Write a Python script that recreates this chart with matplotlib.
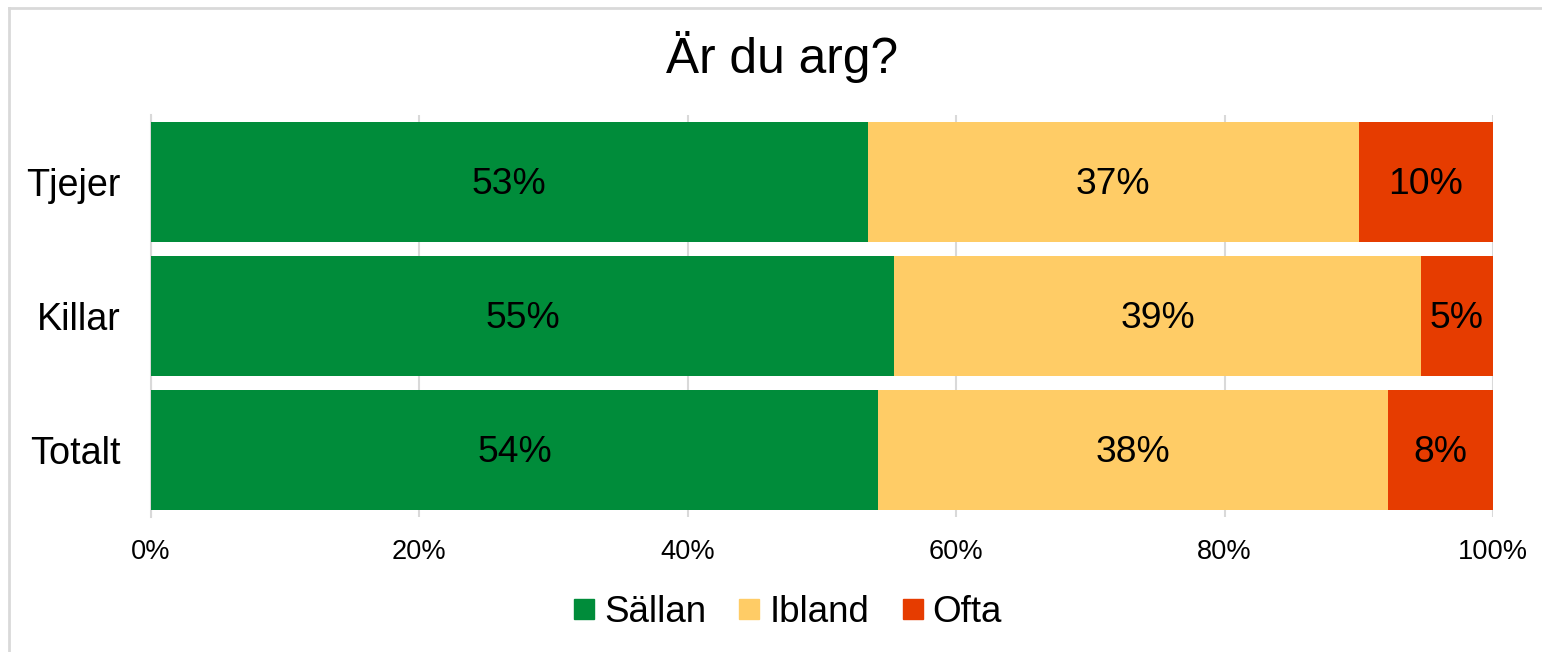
import matplotlib
matplotlib.use("Agg")
import matplotlib.pyplot as plt
from matplotlib.lines import Line2D
import numpy as np

plt.rcParams['font.family'] = ['Liberation Sans', 'DejaVu Sans']

categories = ["Tjejer", "Killar", "Totalt"]
series_names = ["Sällan", "Ibland", "Ofta"]
sallan = [53.4, 55.4, 54.2]
ibland = [36.6, 39.2, 38.0]
ofta = [10.0, 5.4, 7.8]
colors = ["#008C3A", "#FFCC66", "#E63C00"]
xticks = [0, 20, 40, 60, 80, 100]
xticklabels = ["0%", "20%", "40%", "60%", "80%", "100%"]

W, H = 1542, 652
fig = plt.figure(figsize=(W / 100, H / 100), dpi=100)
ax = fig.add_axes([151 / W, 1 - 517 / H, (1493 - 151) / W, (517 - 115) / H])

y = np.arange(len(categories))
left = np.zeros(len(categories))
for name, vals, c in zip(series_names, [sallan, ibland, ofta], colors):
    vals = np.array(vals)
    ax.barh(y, vals, left=left, height=0.895, color=c, label=name, zorder=3)
    for yi, l, v in zip(y, left, vals):
        ax.text(l + v / 2, yi + 0.02, f"{v:.0f}%", ha="center", va="center",
                fontsize=26.8, color="black", zorder=4)
    left = left + vals

ax.set_xlim(0, 100)
ax.set_ylim(len(categories) - 0.5, -0.5)
ax.set_yticks(y)
ax.set_yticklabels(categories, fontsize=27.2)
ax.set_xticks(xticks)
ax.set_xticklabels(xticklabels, fontsize=19.6)
ax.tick_params(axis="y", length=0, pad=22)
ax.tick_params(axis="x", length=0, pad=16)
ax.grid(axis="x", color="#d9d9d9", linewidth=1.5, zorder=0)
for s in ["top", "right", "bottom"]:
    ax.spines[s].set_visible(False)
ax.spines["left"].set_color("#d9d9d9")
ax.spines["left"].set_linewidth(1.5)

fig.text(782 / W, 1 - 73 / H, "Är du arg?", ha="center", va="baseline", fontsize=35.7)

leg_handles = [Line2D([0], [0], marker="s", linestyle="none", markersize=14,
                      markerfacecolor=c, markeredgecolor=c) for c in colors]
fig.legend(leg_handles, series_names, loc="center", bbox_to_anchor=(788 / W, 1 - 612 / H),
           ncol=3, frameon=False, fontsize=26.5, handletextpad=0.27, columnspacing=0.9,
           handlelength=0.55, borderpad=0, borderaxespad=0)

# figure border (top and left visible)
fig.add_artist(Line2D([9 / W, 9 / W], [0, 1 - 8 / H], transform=fig.transFigure,
                      color="#d9d9d9", linewidth=2))
fig.add_artist(Line2D([9 / W, 1], [1 - 8 / H, 1 - 8 / H], transform=fig.transFigure,
                      color="#d9d9d9", linewidth=2))

fig.savefig("out.png", dpi=100)
